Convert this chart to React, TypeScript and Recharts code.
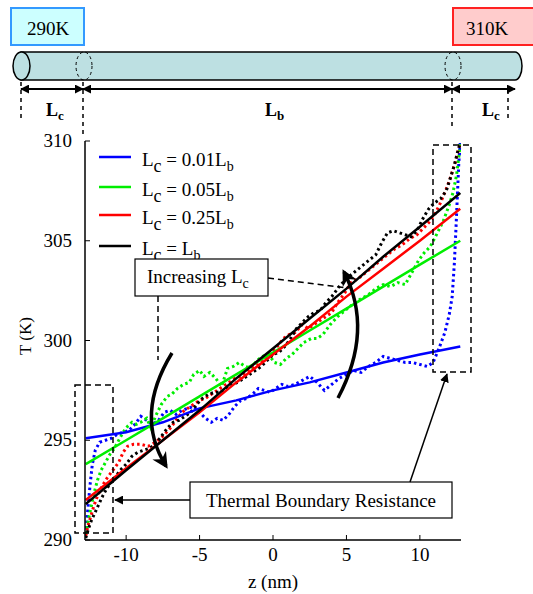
import React from 'react';
import { LineChart, Line, XAxis, YAxis } from 'recharts';

const SERIF = '"Liberation Serif", "Times New Roman", serif';

const zTicks = [-10, -5, 0, 5, 10];
const tTicks = [290, 295, 300, 305, 310];

// straight fits (solid lines)
const zFit = [-12.75, -10, -7.5, -5, -2.5, 0, 2.5, 5, 7.5, 10, 12.75];
const fit001 = [295.1, 295.4, 295.9, 296.6, 297.0, 297.5, 297.9, 298.4, 298.9, 299.3, 299.7];
const fit005 = [293.8, 295.0, 296.1, 297.2, 298.3, 299.4, 300.5, 301.6, 302.7, 303.8, 305.0];
const fit025 = [292.0, 293.6, 295.0, 296.4, 297.9, 299.3, 300.7, 302.2, 303.6, 305.0, 306.6];
const fit100 = [291.8, 293.5, 295.0, 296.5, 298.1, 299.6, 301.1, 302.6, 304.2, 305.7, 307.4];

// MD profiles (dotted), [z, T]
const dot001: [number, number][] = [
  [-12.75, 290.3], [-12.6, 291.6], [-12.45, 292.8], [-12.3, 293.8], [-12.1, 294.5], [-11.8, 294.9],
  [-11.4, 295.0], [-11.0, 295.1], [-10.6, 295.3], [-10.2, 295.4], [-9.8, 295.5], [-9.4, 295.8],
  [-9.0, 296.2], [-8.6, 296.0], [-8.2, 295.8], [-7.8, 296.0], [-7.4, 296.4], [-7.0, 296.5],
  [-6.6, 296.3], [-6.2, 296.5], [-5.8, 296.6], [-5.4, 296.7], [-5.0, 296.4], [-4.6, 296.1],
  [-4.2, 295.9], [-3.8, 296.1], [-3.4, 296.0], [-3.0, 296.3], [-2.6, 296.7], [-2.2, 297.0],
  [-1.8, 297.1], [-1.4, 297.3], [-1.0, 297.6], [-0.6, 297.5], [-0.2, 297.4], [0.2, 297.6],
  [0.6, 297.8], [1.0, 297.7], [1.5, 297.8], [2.0, 298.0], [2.5, 298.2], [3.0, 297.9],
  [3.5, 297.5], [4.0, 297.8], [4.5, 298.1], [5.0, 298.3], [5.5, 298.5], [6.0, 298.4],
  [6.5, 298.7], [7.0, 298.9], [7.5, 299.2], [8.0, 299.1], [8.5, 299.0], [9.0, 298.9],
  [9.5, 298.9], [10.0, 298.8], [10.5, 298.7], [10.9, 298.9], [11.3, 299.6], [11.7, 300.4],
  [12.0, 301.3], [12.2, 302.2], [12.35, 303.9], [12.45, 305.5], [12.55, 307.2], [12.65, 308.9],
  [12.75, 309.9],
];
const dot005: [number, number][] = [
  [-12.75, 290.3], [-12.6, 290.9], [-12.4, 291.6], [-12.2, 292.3], [-11.95, 293.0], [-11.7, 293.5],
  [-11.4, 293.9], [-11.1, 294.3], [-10.8, 294.6], [-10.5, 295.0], [-10.2, 295.4], [-9.9, 295.7],
  [-9.6, 295.9], [-9.3, 295.8], [-9.0, 295.9], [-8.6, 296.1], [-8.3, 295.6], [-8.0, 296.2],
  [-7.6, 296.8], [-7.2, 297.2], [-6.9, 297.3], [-6.5, 297.6], [-6.1, 297.8], [-5.7, 297.9],
  [-5.4, 298.3], [-5.0, 298.5], [-4.7, 298.2], [-4.3, 298.4], [-3.9, 298.1], [-3.5, 297.7],
  [-3.1, 298.6], [-2.7, 298.7], [-2.3, 298.9], [-1.9, 298.7], [-1.5, 298.6], [-1.1, 299.0],
  [-0.7, 299.2], [-0.3, 299.3], [0.1, 298.9], [0.5, 298.8], [0.9, 299.1], [1.3, 299.3],
  [1.7, 299.6], [2.1, 299.9], [2.6, 300.1], [3.0, 300.1], [3.4, 300.3], [3.9, 300.8],
  [4.4, 301.2], [4.9, 301.5], [5.4, 301.8], [6.0, 302.1], [6.5, 302.3], [7.0, 302.6],
  [7.5, 302.8], [8.0, 302.7], [8.5, 302.9], [9.0, 302.8], [9.3, 303.2], [9.6, 303.6],
  [9.9, 304.0], [10.3, 304.4], [10.7, 304.7], [11.2, 305.4], [11.6, 306.0], [12.0, 306.8],
  [12.25, 307.4], [12.5, 308.3], [12.65, 309.2], [12.75, 309.9],
];
const dot025: [number, number][] = [
  [-12.75, 290.2], [-12.6, 290.7], [-12.4, 291.2], [-12.2, 291.7], [-11.95, 292.2], [-11.7, 292.6],
  [-11.4, 293.0], [-11.1, 293.3], [-10.8, 293.6], [-10.5, 293.9], [-10.2, 294.4], [-9.9, 294.7],
  [-9.5, 294.8], [-9.0, 294.8], [-8.5, 294.7], [-8.0, 294.9], [-7.5, 295.2], [-7.0, 295.6],
  [-6.6, 296.0], [-6.2, 296.4], [-5.8, 296.6], [-5.4, 296.8], [-5.0, 297.0], [-4.6, 297.1],
  [-4.2, 297.3], [-3.8, 297.5], [-3.4, 297.7], [-3.0, 297.9], [-2.6, 298.1], [-2.2, 298.2],
  [-1.8, 298.4], [-1.4, 298.6], [-1.0, 298.8], [-0.6, 299.1], [-0.2, 299.3], [0.3, 299.7],
  [0.7, 300.1], [1.1, 300.3], [1.5, 300.4], [2.0, 300.8], [2.4, 300.6], [2.8, 300.8],
  [3.2, 301.0], [3.6, 301.2], [4.0, 301.4], [4.4, 301.9], [4.9, 302.4], [5.3, 302.9],
  [5.8, 303.1], [6.3, 303.4], [6.8, 303.7], [7.3, 304.0], [7.8, 304.3], [8.3, 304.6],
  [8.8, 304.8], [9.3, 305.1], [9.8, 305.3], [10.2, 305.6], [10.6, 305.9], [11.0, 306.3],
  [11.4, 306.9], [11.8, 307.6], [12.1, 308.2], [12.4, 308.9], [12.6, 309.5], [12.75, 309.9],
];
const dot100: [number, number][] = [
  [-12.75, 290.1], [-12.55, 290.6], [-12.35, 291.0], [-12.1, 291.4], [-11.85, 291.8], [-11.6, 292.2],
  [-11.3, 292.6], [-11.0, 292.9], [-10.7, 293.2], [-10.4, 293.5], [-10.0, 293.8], [-9.6, 294.2],
  [-9.2, 294.4], [-8.8, 294.5], [-8.4, 294.6], [-8.0, 294.8], [-7.6, 295.2], [-7.2, 295.6],
  [-6.8, 295.9], [-6.4, 296.0], [-6.0, 296.2], [-5.6, 296.4], [-5.2, 296.8], [-4.8, 297.1],
  [-4.4, 297.3], [-4.0, 297.4], [-3.6, 297.4], [-3.2, 297.6], [-2.8, 297.8], [-2.4, 297.9],
  [-2.0, 298.1], [-1.6, 298.3], [-1.2, 298.5], [-0.8, 298.7], [-0.4, 299.0], [0.0, 299.3],
  [0.4, 299.4], [0.8, 299.7], [1.2, 300.1], [1.6, 300.6], [2.0, 300.9], [2.4, 301.2],
  [2.8, 301.4], [3.2, 301.5], [3.6, 301.9], [4.0, 302.2], [4.5, 302.7], [5.0, 303.1],
  [5.5, 303.4], [6.0, 303.7], [6.5, 304.0], [7.0, 304.3], [7.4, 304.9], [7.8, 305.4],
  [8.2, 305.5], [8.6, 305.4], [9.0, 305.3], [9.4, 305.2], [9.8, 305.5], [10.2, 306.1],
  [10.6, 306.6], [11.0, 306.9], [11.4, 307.1], [11.8, 307.5], [12.1, 308.2], [12.35, 308.8],
  [12.55, 309.4], [12.75, 309.9],
];

const fitRows = (ts: number[]) => zFit.map((z, i) => ({ z, t: ts[i] }));
const dotRows = (pts: [number, number][]) => pts.map(([z, t]) => ({ z, t }));

const series = [
  { label: '0.01', color: '#0000ff', fit: fit001, dots: dot001 },
  { label: '0.05', color: '#00ee00', fit: fit005, dots: dot005 },
  { label: '0.25', color: '#ff0000', fit: fit025, dots: dot025 },
  { label: '', color: '#000000', fit: fit100, dots: dot100 },
];

const axisLine = { stroke: '#000', strokeWidth: 1.5 };
const blank = () => '';

const XTick = (p: any) => (
  <text x={p.x} y={p.y + 10} textAnchor="middle" fontSize={19} fontFamily={SERIF} fill="#000">
    {p.payload.value}
  </text>
);
const YTick = (p: any) => (
  <text x={p.x} y={p.y + 6} textAnchor="end" fontSize={19} fontFamily={SERIF} fill="#000">
    {p.payload.value}
  </text>
);

const Overlay = () => (
  <svg width={533} height={594} style={{ position: 'absolute', left: 0, top: 0, pointerEvents: 'none', fontFamily: SERIF }}>
    <defs>
      <marker id="ah" viewBox="0 0 10 10" refX="9" refY="5" markerWidth="9" markerHeight="9"
        markerUnits="userSpaceOnUse" orient="auto-start-reverse">
        <path d="M0,0 L10,5 L0,10 Z" fill="#000" />
      </marker>
      <marker id="ahBig" viewBox="0 0 10 10" refX="8" refY="5" markerWidth="16" markerHeight="16"
        markerUnits="userSpaceOnUse" orient="auto">
        <path d="M0,0 L10,5 L0,10 L3,5 Z" fill="#000" />
      </marker>
    </defs>

    {/* reservoirs */}
    <rect x={11} y={8} width={73} height={37} fill="#ccffff" stroke="#3399ff" strokeWidth={2} />
    <text x={48} y={35} fontSize={19} textAnchor="middle">290K</text>
    <rect x={453} y={8} width={90} height={37} fill="#ffcccc" stroke="#ff2222" strokeWidth={2} />
    <text x={487} y={35} fontSize={19} textAnchor="middle">310K</text>

    {/* nanotube */}
    <path d="M21,52 L515,52 A7,14 0 0 1 515,80 L21,80 Z" fill="#bde0e2" stroke="#000" strokeWidth={1.5} />
    <ellipse cx={21.5} cy={66} rx={8.5} ry={14} fill="#bde0e2" stroke="#000" strokeWidth={1.5} />
    <ellipse cx={84} cy={66} rx={8} ry={14} fill="none" stroke="#000" strokeWidth={1} strokeDasharray="3 3" />
    <ellipse cx={453} cy={66} rx={8} ry={14} fill="none" stroke="#000" strokeWidth={1} strokeDasharray="3 3" />

    {/* dimension arrows */}
    {[[21, 83], [83, 452], [452, 515]].map(([a, b]) => (
      <line key={a} x1={a} y1={89} x2={b} y2={89} stroke="#000" strokeWidth={1.8}
        markerStart="url(#ah)" markerEnd="url(#ah)" />
    ))}
    {[[21, 82, 118], [83, 82, 134], [452, 82, 128], [508, 90, 118]].map(([x, a, b]) => (
      <line key={x} x1={x} y1={a} x2={x} y2={b} stroke="#000" strokeWidth={1.5} strokeDasharray="4 4" />
    ))}
    <g fontSize={18} fontWeight="bold">
      <text x={46} y={116}>L<tspan fontSize={13} dy={4}>c</tspan></text>
      <text x={265} y={116}>L<tspan fontSize={13} dy={4}>b</tspan></text>
      <text x={482} y={116}>L<tspan fontSize={13} dy={4}>c</tspan></text>
    </g>

    {/* legend */}
    {series.map((s, i) => {
      const y = [157, 187, 215, 246][i];
      return (
        <g key={i}>
          <line x1={99} y1={y} x2={131} y2={y} stroke={s.color} strokeWidth={2.5} />
          <text x={142} y={y + 9} fontSize={19}>
            L<tspan fontSize={18} dy={6}>c</tspan>
            <tspan dy={-6}>{s.label ? ` = ${s.label}L` : ' = L'}</tspan>
            <tspan fontSize={14} dy={5}>b</tspan>
          </text>
        </g>
      );
    })}

    {/* annotations */}
    <rect x={135} y={259} width={133} height={37} fill="#fff" stroke="#000" strokeWidth={1.2} />
    <text x={147} y={283} fontSize={19}>Increasing L<tspan fontSize={14} dy={5}>c</tspan></text>
    <line x1={268} y1={278} x2={347} y2={288} stroke="#000" strokeWidth={1.5} strokeDasharray="6 4" />
    <line x1={158} y1={296} x2={158} y2={360} stroke="#000" strokeWidth={1.5} strokeDasharray="6 4" />
    <path d="M172,353 Q134,415 166,466" fill="none" stroke="#000" strokeWidth={3.5} markerEnd="url(#ahBig)" />
    <path d="M338,398 Q374,330 344,272" fill="none" stroke="#000" strokeWidth={3.5} markerEnd="url(#ahBig)" />

    <rect x={75} y={385} width={38} height={148} fill="none" stroke="#000" strokeWidth={1.5} strokeDasharray="6 4" />
    <rect x={433} y={145} width={38} height={227} fill="none" stroke="#000" strokeWidth={1.5} strokeDasharray="6 4" />

    <rect x={190} y={482} width={262} height={36} fill="#fff" stroke="#000" strokeWidth={1.2} />
    <text x={321} y={507} fontSize={19} textAnchor="middle">Thermal Boundary Resistance</text>
    <line x1={190} y1={500} x2={115} y2={500} stroke="#000" strokeWidth={1.5} markerEnd="url(#ah)" />
    <line x1={410} y1={482} x2={447} y2={374} stroke="#000" strokeWidth={1.5} markerEnd="url(#ah)" />

    {/* axis titles */}
    <text x={0} y={0} fontSize={17} textAnchor="middle" transform="translate(31,336) rotate(-90)">T (K)</text>
    <text x={273} y={588} fontSize={19} textAnchor="middle">z (nm)</text>
  </svg>
);

export default function App() {
  return (
    <div style={{ position: 'absolute', left: 0, top: 0, width: 533, height: 594, background: '#fff' }}>
      <LineChart width={533} height={594} margin={{ top: 141, right: 72, bottom: 24, left: 45 }}>
        <XAxis dataKey="z" type="number" domain={[-12.8, 12.8]} allowDataOverflow ticks={zTicks}
          height={30} tickSize={-5} tickMargin={16} axisLine={axisLine} tickLine={{ stroke: '#000' }}
          tick={<XTick />} />
        <XAxis xAxisId="top" orientation="top" dataKey="z" type="number" domain={[-12.8, 12.8]}
          allowDataOverflow ticks={zTicks} height={0} tickSize={-5} tickFormatter={blank}
          axisLine={axisLine} tickLine={{ stroke: '#000' }} />
        <YAxis type="number" domain={[290, 310]} allowDataOverflow ticks={tTicks} width={40}
          tickSize={-5} tickMargin={18} axisLine={axisLine} tickLine={{ stroke: '#000' }}
          tick={<YTick />} />
        <YAxis yAxisId="right" orientation="right" type="number" domain={[290, 310]} allowDataOverflow
          ticks={tTicks} width={0} tickSize={-5} tickFormatter={blank} axisLine={axisLine}
          tickLine={{ stroke: '#000' }} />
        {series.map((s, i) => (
          <Line key={'d' + i} data={dotRows(s.dots)} dataKey="t" type="linear" stroke={s.color}
            strokeWidth={3} strokeDasharray="2.5 3" dot={false} isAnimationActive={false} />
        ))}
        {series.map((s, i) => (
          <Line key={'f' + i} data={fitRows(s.fit)} dataKey="t" type="linear" stroke={s.color}
            strokeWidth={2.5} dot={false} isAnimationActive={false} />
        ))}
      </LineChart>
      <Overlay />
    </div>
  );
}
